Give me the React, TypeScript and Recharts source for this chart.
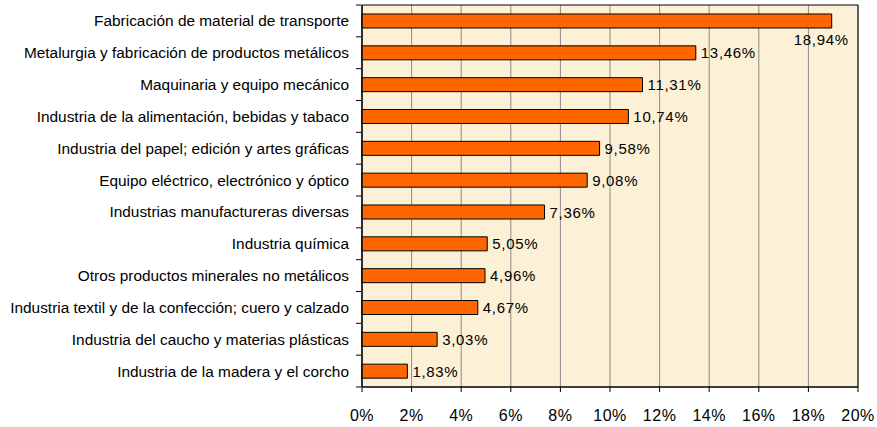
import React from 'react';
import {
    BarChart,
    Bar,
    XAxis,
    YAxis,
    CartesianGrid,
    ReferenceArea,
    LabelList,
} from 'recharts';

// sector names, top to bottom
const sectors = [
    'Fabricación de material de transporte',
    'Metalurgia y fabricación de productos metálicos',
    'Maquinaria y equipo mecánico',
    'Industria de la alimentación, bebidas y tabaco',
    'Industria del papel; edición y artes gráficas',
    'Equipo eléctrico, electrónico y óptico',
    'Industrias manufactureras diversas',
    'Industria química',
    'Otros productos minerales no metálicos',
    'Industria textil y de la confección; cuero y calzado',
    'Industria del caucho y materias plásticas',
    'Industria de la madera y el corcho',
];

const shares = [18.94, 13.46, 11.31, 10.74, 9.58, 9.08, 7.36, 5.05, 4.96, 4.67, 3.03, 1.83];

const xTicks = [0, 2, 4, 6, 8, 10, 12, 14, 16, 18, 20];

const data = sectors.map((name, i) => ({ name, value: shares[i] }));

const FONT = '"Liberation Sans", Arial, sans-serif';

const fmt = (v: number) => v.toFixed(2).replace('.', ',') + '%';

function SectorTick(props: any) {
    const { x, y, payload, index } = props;
    const band = 382 / sectors.length;
    const axisX = x + 7;
    return (
        <g>
            <line x1={axisX - 5} x2={axisX} y1={y - band / 2} y2={y - band / 2} stroke="#000" />
            {index === sectors.length - 1 && (
                <line x1={axisX - 5} x2={axisX} y1={y + band / 2} y2={y + band / 2} stroke="#000" />
            )}
            <text
                x={x - 5}
                y={y}
                textAnchor="end"
                dominantBaseline="central"
                fontSize={15.4}
                fill="#000"
                fontFamily={FONT}
            >
                {payload.value}
            </text>
        </g>
    );
}

function ValueLabel(props: any) {
    const { x, y, width, height, value } = props;
    // the widest bar has no room on its right, so its label drops below
    const below = value > 17;
    const tx = below ? x + width - 38 : x + width + 5;
    const ty = below ? y + height + 11 : y + height / 2;
    return (
        <text
            x={tx}
            y={ty}
            dominantBaseline="central"
            fontSize={15}
            letterSpacing={0.7}
            fill="#000"
            fontFamily={FONT}
        >
            {fmt(value)}
        </text>
    );
}

export default function App() {
    return (
        <div style={{ position: 'absolute', left: 0, top: 0, background: '#fff' }}>
            <BarChart
                width={877}
                height={427}
                data={data}
                layout="vertical"
                margin={{ top: 5, right: 19, left: 0, bottom: 0 }}
                barSize={14}
            >
                <CartesianGrid
                    horizontal={false}
                    fill="#FCF0D6"
                    stroke="#8a8a8a"
                    strokeOpacity={1}
                />
                <ReferenceArea x1={0} x2={20} fill="none" stroke="#000" strokeWidth={1} ifOverflow="visible" />
                <XAxis
                    type="number"
                    domain={[0, 20]}
                    ticks={xTicks}
                    tickFormatter={(v) => `${v}%`}
                    height={40}
                    tickSize={5}
                    tickMargin={18}
                    axisLine={{ stroke: '#000' }}
                    tickLine={{ stroke: '#000' }}
                    tick={{ fontSize: 16, fill: '#000', fontFamily: FONT, letterSpacing: 0.5 }}
                    interval={0}
                />
                <YAxis
                    type="category"
                    dataKey="name"
                    width={362}
                    axisLine={{ stroke: '#000' }}
                    tickLine={false}
                    tick={<SectorTick />}
                    interval={0}
                />
                <Bar
                    dataKey="value"
                    fill="#FF6600"
                    stroke="#000"
                    strokeWidth={1}
                    isAnimationActive={false}
                >
                    <LabelList dataKey="value" content={<ValueLabel />} />
                </Bar>
            </BarChart>
        </div>
    );
}
